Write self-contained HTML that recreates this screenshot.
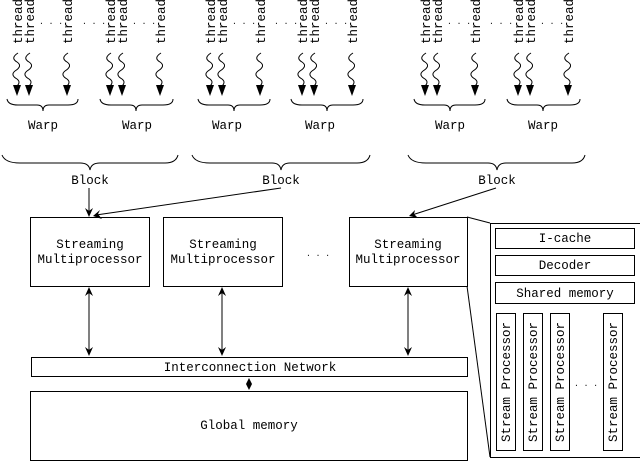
<!DOCTYPE html>
<html><head><meta charset="utf-8"><style>
html,body{margin:0;padding:0;background:#fff;}
svg{display:block;}
text{font-family:"Liberation Mono",monospace;font-size:12.5px;fill:#000;}
.d{font-size:8px;}
</style></head><body>
<svg width="640" height="462" viewBox="0 0 640 462" xmlns="http://www.w3.org/2000/svg">
<defs>
<g id="w">
<path d="M1,53 Q-7,58 0,62 Q6,66 -2,71 Q-7,75 0,79 Q4,82 0,86 L0,90" fill="none" stroke="#000" stroke-width="1"/>
<polygon points="-4,85 4,85 0,96" fill="#000"/>
</g>
<g id="t"><text transform="translate(5,44) rotate(-90)">thread</text></g>
<g id="warp">
<use href="#t" x="0"/><use href="#t" x="12"/><use href="#t" x="50"/>
<use href="#w" x="0"/><use href="#w" x="12"/><use href="#w" x="50"/>
<text x="22" y="24" class="d">. . .</text>
</g>
</defs>
<use href="#warp" x="17"/><use href="#warp" x="110"/>
<use href="#warp" x="210"/><use href="#warp" x="302"/>
<use href="#warp" x="425"/><use href="#warp" x="518"/>
<text x="82" y="24" class="d">. . .</text>
<text x="274" y="24" class="d">. . .</text>
<text x="489" y="24" class="d">. . .</text>
<g fill="none" stroke="#000" stroke-width="1">
<path d="M7,99 Q8,105 18,105 L37,105 Q43,105 43,111 Q43,105 49,105 L68,105 Q78,105 78,99"/>
<path d="M100,99 Q101,105 111,105 L130,105 Q136,105 136,111 Q136,105 142,105 L163,105 Q173,105 173,99"/>
<path d="M198,99 Q199,105 209,105 L228,105 Q234,105 234,111 Q234,105 240,105 L260,105 Q270,105 270,99"/>
<path d="M291,99 Q292,105 302,105 L321,105 Q327,105 327,111 Q327,105 333,105 L353,105 Q363,105 363,99"/>
<path d="M414,99 Q415,105 425,105 L444,105 Q450,105 450,111 Q450,105 456,105 L475,105 Q485,105 485,99"/>
<path d="M507,99 Q508,105 518,105 L537,105 Q543,105 543,111 Q543,105 549,105 L570,105 Q580,105 580,99"/>
<path d="M2,155 Q5,163 20,163 L80,163 Q89,163 90,170 Q91,163 100,163 L165,163 Q176,163 178,155"/>
<path d="M192,155 Q195,163 210,163 L272,163 Q280,163 281,170 Q282,163 290,163 L357,163 Q368,163 370,155"/>
<path d="M408,155 Q411,163 426,163 L488,163 Q496,163 497,170 Q498,163 506,163 L572,163 Q583,163 585,155"/>
<line x1="89" y1="188" x2="89" y2="214"/>
<line x1="281" y1="188" x2="96" y2="215"/>
<line x1="496" y1="188" x2="412" y2="215"/>
<rect x="30.5" y="217.5" width="119" height="69"/>
<rect x="163.5" y="217.5" width="119" height="69"/>
<rect x="349.5" y="217.5" width="118" height="69"/>
<rect x="31.5" y="357.5" width="436" height="19"/>
<rect x="30.5" y="391.5" width="437" height="69"/>
<rect x="490.5" y="223.5" width="160" height="234"/>
<line x1="467" y1="217" x2="490" y2="223"/>
<line x1="467" y1="286" x2="490" y2="457"/>
<rect x="495.5" y="228.5" width="139" height="20"/>
<rect x="495.5" y="255.5" width="139" height="20"/>
<rect x="495.5" y="282.5" width="139" height="21"/>
<rect x="496.5" y="313.5" width="19" height="137"/>
<rect x="523.5" y="313.5" width="19" height="137"/>
<rect x="550.5" y="313.5" width="19" height="137"/>
<rect x="603.5" y="313.5" width="19" height="137"/>
<line x1="89" y1="290" x2="89" y2="353"/>
<line x1="222" y1="290" x2="222" y2="353"/>
<line x1="408" y1="290" x2="408" y2="353"/>
</g>
<g fill="#000">
<polygon points="89,287 85,296 89,293 93,296"/><polygon points="89,356 85,347 89,350 93,347"/>
<polygon points="222,287 218,296 222,293 226,296"/><polygon points="222,356 218,347 222,350 226,347"/>
<polygon points="408,287 404,296 408,293 412,296"/><polygon points="408,356 404,347 408,350 412,347"/>
<polygon points="89,217 85,208 89,211 93,208"/>
<polygon points="93,216 100,210 98,214 102,219"/>
<polygon points="409,216 415,210 414,214 418,218"/>
<polygon points="249,378 246,384 249,390 252,384"/>
</g>
<g text-anchor="middle">
<text x="43" y="129">Warp</text><text x="137" y="129">Warp</text>
<text x="227" y="129">Warp</text><text x="320" y="129">Warp</text>
<text x="450" y="129">Warp</text><text x="543" y="129">Warp</text>
<text x="90" y="184">Block</text><text x="281" y="184">Block</text><text x="497" y="184">Block</text>
<text x="90" y="248">Streaming</text><text x="90" y="263">Multiprocessor</text>
<text x="223" y="248">Streaming</text><text x="223" y="263">Multiprocessor</text>
<text x="408" y="248">Streaming</text><text x="408" y="263">Multiprocessor</text>
<text x="318" y="256" class="d">. . .</text>
<text x="250" y="371">Interconnection Network</text>
<text x="249" y="429">Global memory</text>
<text x="565" y="242">I-cache</text>
<text x="565" y="269">Decoder</text>
<text x="565" y="297">Shared memory</text>
<text x="586" y="386" class="d">. . .</text>
<text transform="translate(510,382) rotate(-90)">Stream Processor</text>
<text transform="translate(537,382) rotate(-90)">Stream Processor</text>
<text transform="translate(564,382) rotate(-90)">Stream Processor</text>
<text transform="translate(617,382) rotate(-90)">Stream Processor</text>
</g>
</svg>
</body></html>
